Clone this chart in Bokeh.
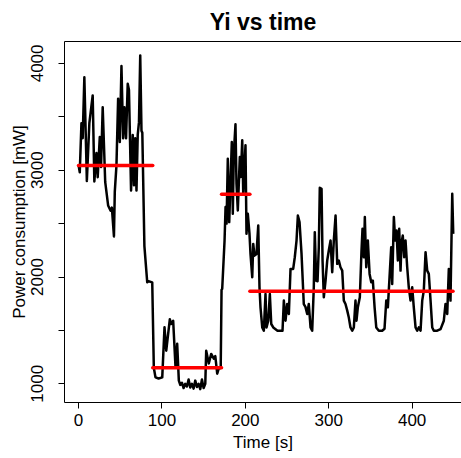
from bokeh.plotting import figure
from bokeh.models import FixedTicker, LinearAxis, Range1d
from bokeh.embed import file_html
from bokeh.resources import INLINE

# ---- data ----
time_s = [0, 1.5, 3.5, 5, 7, 10, 13, 17, 19, 21.5, 23, 25.5, 27, 29, 32, 35.5,
          38.5, 40, 42.5, 43.5, 45.5, 47.5, 49.5, 51.5, 53.5, 55, 57, 59, 60.5,
          63, 65, 66.5, 68, 69.5, 71, 72.5, 74, 75.5, 76.5, 79, 82.4, 84, 88.4,
          90.3, 92.3, 96, 100.4, 103.1, 105.2, 109.5, 111, 113.5, 116.3, 118.3,
          120.3, 122, 124, 126, 128, 130, 132, 134, 136, 138, 140, 142, 144,
          146, 148, 150, 152, 153.1, 156.2, 159.1, 162.2, 164, 166.3, 168,
          170.5, 171.5, 172.3, 175.1, 176.3, 177.5, 179, 180.7, 182.3, 183.8,
          185, 186.2, 188.2, 189.4, 191, 193.4, 194.6, 196.3, 197.5, 200.2,
          201.4, 203, 205, 206.2, 208.3, 209.5, 211, 213.4, 215.5, 217, 218.2,
          220.3, 222.2, 224.2, 225.4, 227.5, 229.4, 231.1, 233.5, 238.6, 244.6,
          246.2, 248.2, 250.2, 252.2, 254.2, 257.4, 259.3, 261.4, 263, 265,
          267.4, 270.1, 272.1, 274.2, 276.1, 278.2, 280.2, 282.1, 283.3, 285,
          286.6, 288.1, 289.3, 291.4, 292.6, 294.1, 296.2, 298.2, 300.1, 302.2,
          304.2, 306.1, 308.2, 310.2, 312.1, 314.1, 316.2, 318.1, 320.1, 322.2,
          324.1, 326.1, 328.2, 330.1, 332.1, 333.3, 334.9, 337.3, 339.3, 340.5,
          342.1, 343.3, 345, 346.9, 349, 351, 352.9, 355, 357, 360.1, 364.1,
          366.9, 369, 370.9, 372.9, 374.9, 376.1, 378.1, 379.7, 381.3, 382.9,
          384.5, 386.1, 387.3, 388.8, 390.5, 392.1, 394.1, 396, 398.1, 400.1,
          402, 404.1, 406.1, 408, 410.1, 412.1, 414, 416.1, 418.1, 420, 422.1,
          424.1, 426, 430.1, 434.1, 438, 440, 442.1, 444, 446, 448.1, 449.3]
power_mw = [3050, 2980, 3440, 3300, 3870, 2900, 3440, 3700, 2895, 3160, 2935,
            3310, 3030, 3590, 2890, 2670, 2620, 2650, 2380, 2800, 3045, 3670,
            3265, 3975, 3300, 3590, 3300, 3810, 3750, 2810, 3330, 2860, 3300,
            2810, 3330, 3450, 4075, 3370, 3350, 2290, 1950, 1960, 1950, 1150,
            1060, 1050, 1060, 1530, 1310, 1605, 1560, 1590, 1155, 1375, 1030,
            990, 1010, 960, 1000, 975, 1040, 965, 1000, 955, 1030, 970, 1000,
            950, 1040, 960, 1000, 1310, 1190, 1280, 1235, 1260, 1095, 1140,
            1150, 1880, 1890, 2340, 2655, 2500, 3108, 2514, 2904, 3264, 2592,
            3155, 3430, 2876, 2623, 3123, 2936, 3280, 2779, 3233, 2404, 2592,
            2404, 2216, 1997, 2310, 2200, 2216, 2482, 1903, 1716, 1528, 1497,
            1841, 1528, 1591, 1841, 1560, 1528, 1497, 1497, 1779, 1591, 1747,
            1653, 2076, 2076, 2185, 2341, 2576, 2514, 2216, 1747, 1720, 1653,
            1747, 1528, 1497, 1903, 2420, 1966, 1960, 2279, 2835, 2825, 2154,
            1810, 1966, 2154, 2248, 2341, 2044, 2341, 2576, 2123, 2154, 2091,
            2060, 1779, 1747, 1685, 1620, 1528, 1497, 1528, 1779, 1591, 1716,
            1810, 2248, 2451, 2185, 2561, 2091, 2341, 2029, 1950, 1966, 1716,
            1528, 1497, 1497, 1516, 1779, 1716, 1997, 2279, 1934, 2561, 2341,
            2435, 2154, 2451, 2060, 2326, 2388, 2185, 2341, 2091, 1903, 1779,
            1903, 1716, 1528, 1497, 1528, 1497, 1779, 1872, 2232, 2060, 2029,
            1779, 1528, 1497, 1497, 1512, 1591, 1747, 1653, 2076, 1779, 2779,
            2404]

seg_start = [0, 89, 171.5, 205.5]
seg_end = [89, 171.5, 205.5, 449]
seg_level = [3045, 1150, 2775, 1866]

x_ticks = [0, 100, 200, 300, 400]
y_ticks = [1000, 1500, 2000, 2500, 3000, 3500, 4000]
y_tick_labels = ["1000", "", "2000", "", "3000", "", "4000"]

FONT = "Liberation Sans"

p = figure(width=461, height=458, output_backend="svg", toolbar_location=None,
           x_range=Range1d(-16.8, 459.2), y_range=Range1d(825, 4205),
           min_border_left=64, min_border_right=0, min_border_top=41,
           min_border_bottom=56)
p.outline_line_color = None
p.xgrid.visible = False
p.ygrid.visible = False
p.background_fill_color = "white"
p.border_fill_color = "white"

p.title.text = "Yi vs time"
p.title.align = "center"
p.title.text_font = FONT
p.title.text_font_size = "23px"
p.title.text_font_style = "bold"
p.title.text_color = "black"
p.title.standoff = 13
p.title.offset = 0

p.line(time_s, power_mw, line_color="black", line_width=2.5, line_join="round")
p.segment(x0=seg_start, y0=seg_level, x1=seg_end, y1=seg_level,
          line_color="#ff0000", line_width=3.5, line_cap="round")

for ax in (p.xaxis[0], p.yaxis[0]):
    ax.axis_line_color = "black"
    ax.axis_line_width = 1
    ax.major_tick_line_color = "black"
    ax.major_tick_out = 6
    ax.major_tick_in = 0
    ax.minor_tick_line_color = None
    ax.major_label_text_font = FONT
    ax.major_label_text_font_size = "17px"
    ax.major_label_text_color = "black"
    ax.axis_label_text_font = FONT
    ax.axis_label_text_font_size = "17px"
    ax.axis_label_text_font_style = "normal"
    ax.axis_label_text_color = "black"

p.xaxis[0].ticker = FixedTicker(ticks=x_ticks)
p.xaxis[0].axis_label = "Time [s]"
p.xaxis[0].major_label_standoff = 5
p.xaxis[0].axis_label_standoff = 4

p.yaxis[0].ticker = FixedTicker(ticks=y_ticks)
p.yaxis[0].major_label_overrides = {float(t): s for t, s in zip(y_ticks, y_tick_labels)}
p.yaxis[0].major_label_orientation = "vertical"
p.yaxis[0].axis_label = "Power consumption [mW]"
p.yaxis[0].major_label_standoff = 15
p.yaxis[0].axis_label_standoff = 0

top = LinearAxis(ticker=FixedTicker(ticks=[]), major_tick_line_color=None,
                 minor_tick_line_color=None, major_label_text_font_size="0px",
                 axis_line_color="black", axis_line_width=1)
p.add_layout(top, "above")

open("out.html", "w").write(file_html(p, INLINE))
